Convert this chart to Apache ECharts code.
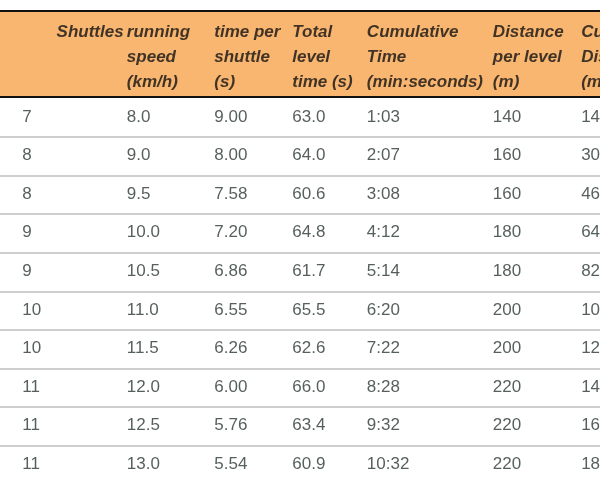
<!DOCTYPE html>
<html>
<head>
<meta charset="UTF-8">
<title></title>
<style>html,body{margin:0;padding:0;background:#fff}#main{width:600px;height:480px}</style>
</head>
<body>
<div id="main"></div>
<script src="https://cdn.jsdelivr.net/npm/echarts@6/dist/echarts.min.js"></script>
<script>
// table columns
var headers = [
  ['Shuttles'],
  ['running', 'speed', '(km/h)'],
  ['time per', 'shuttle', '(s)'],
  ['Total', 'level', 'time (s)'],
  ['Cumulative', 'Time', '(min:seconds)'],
  ['Distance', 'per level', '(m)'],
  ['Cumulative', 'Distance', '(m)']
];
var speed = ['8.0', '9.0', '9.5', '10.0', '10.5', '11.0', '11.5', '12.0', '12.5', '13.0'];
var shuttleTime = ['9.00', '8.00', '7.58', '7.20', '6.86', '6.55', '6.26', '6.00', '5.76', '5.54'];
var levelTime = ['63.0', '64.0', '60.6', '64.8', '61.7', '65.5', '62.6', '66.0', '63.4', '60.9'];
var cumTime = ['1:03', '2:07', '3:08', '4:12', '5:14', '6:20', '7:22', '8:28', '9:32', '10:32'];
var levelDist = ['140', '160', '160', '180', '180', '200', '200', '220', '220', '220'];
var cumDist = ['140', '300', '460', '640', '820', '1020', '1220', '1440', '1660', '1880'];
var shuttles = ['7', '8', '8', '9', '9', '10', '10', '11', '11', '11'];

var colX = [-34, 48, 150, 241, 328, 475, 578];
var columns = [shuttles, speed, shuttleTime, levelTime, cumTime, levelDist, cumDist];
var headLineY = [32, 57, 82];
var rowY0 = 117, rowH = 38.6;

var headData = [], bodyData = [];
headers.forEach(function (h, c) {
  h.forEach(function (t, i) { headData.push([colX[c], headLineY[i], t]); });
});
columns.forEach(function (col, c) {
  col.forEach(function (v, r) { bodyData.push([colX[c] - (c === 0 ? 40 : 0), rowY0 + r * rowH, v]); });
});
var rowLines = [];
for (var r = 0; r < 10; r++) rowLines.push({ yAxis: rowY0 + r * rowH + 20 });

var chart = echarts.init(document.getElementById('main'));
chart.setOption({
  animation: false,
  grid: { left: -100, right: 0, top: 0, bottom: 0 },
  xAxis: { type: 'value', min: -100, max: 600, show: false },
  yAxis: { type: 'value', min: 0, max: 480, inverse: true, show: false },
  series: [{
    type: 'scatter',
    symbolSize: 0,
    data: headData,
    label: {
      show: true, position: 'right', distance: 0,
      formatter: function (p) { return p.data[2]; },
      fontFamily: 'Liberation Sans', fontSize: 17, fontWeight: 'bold', fontStyle: 'italic', color: '#111'
    },
    markArea: {
      silent: true,
      itemStyle: { color: '#F9B670' },
      data: [[{ yAxis: 11 }, { yAxis: 97 }]]
    },
    markLine: {
      silent: true, symbol: 'none', label: { show: false },
      lineStyle: { color: '#111', width: 2, type: 'solid' },
      data: [{ yAxis: 11 }, { yAxis: 97 }]
    },
    z: 3
  }, {
    type: 'scatter',
    symbolSize: 0,
    data: bodyData,
    label: {
      show: true, position: 'right', distance: 0,
      formatter: function (p) { return p.data[2]; },
      fontFamily: 'Liberation Sans', fontSize: 17, color: '#2a3733'
    },
    markLine: {
      silent: true, symbol: 'none', label: { show: false },
      lineStyle: { color: '#cfcfcf', width: 2, type: 'solid' },
      data: rowLines
    }
  }]
});
</script>
</body>
</html>
